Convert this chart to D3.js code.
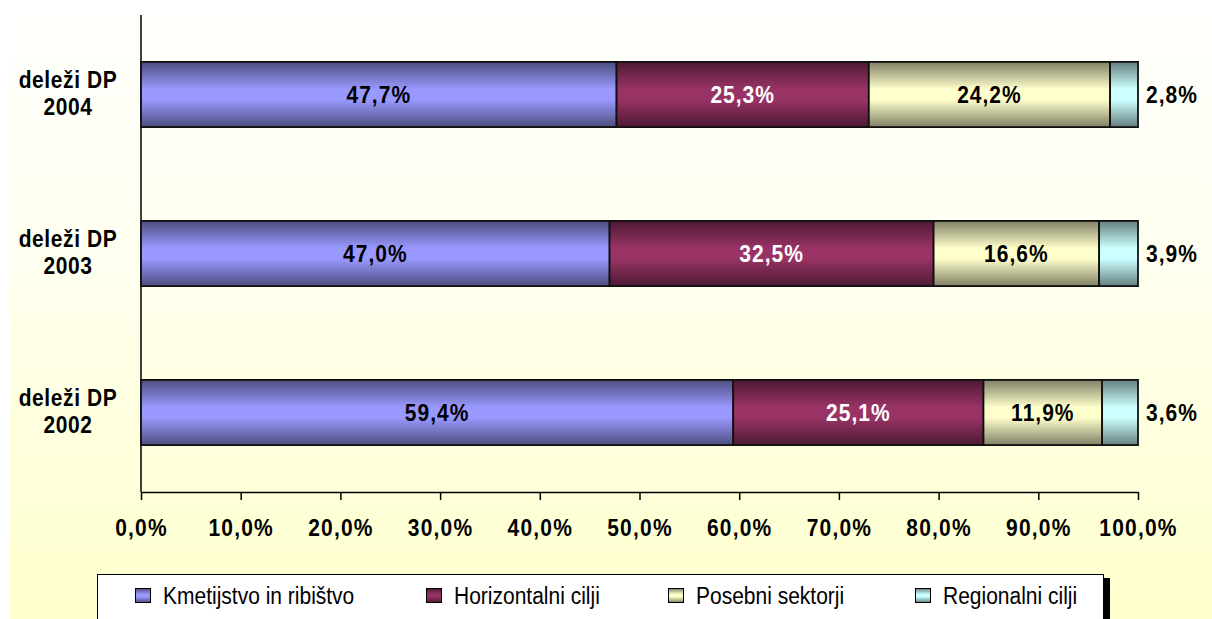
<!DOCTYPE html>
<html><head><meta charset="utf-8">
<script src="https://cdn.jsdelivr.net/npm/d3@7"></script>
<style>html,body{margin:0;padding:0;background:#fff;}svg{display:block;}</style>
</head><body>
<script>
const categories = ["deleži DP 2004", "deleži DP 2003", "deleži DP 2002"];
const seriesNames = ["Kmetijstvo in ribištvo", "Horizontalni cilji", "Posebni sektorji", "Regionalni cilji"];
const kmetijstvo = [47.7, 47.0, 59.4];
const horizontalni = [25.3, 32.5, 25.1];
const posebni = [24.2, 16.6, 11.9];
const regionalni = [2.8, 3.9, 3.6];
const tickValues = [0, 10, 20, 30, 40, 50, 60, 70, 80, 90, 100];
const colors = ["#9999FF", "#993366", "#FFFFCC", "#CCFFFF"];
const labelColors = ["#000", "#fff", "#000", "#000"];

const W = 1212, H = 619;
const svg = d3.select("body").append("svg").attr("width", W).attr("height", H);
const defs = svg.append("defs");

const bg = defs.append("linearGradient").attr("id", "bg").attr("x1", 0).attr("y1", 0).attr("x2", 0).attr("y2", 1);
bg.append("stop").attr("offset", "0%").attr("stop-color", "#FFFFFD");
bg.append("stop").attr("offset", "40%").attr("stop-color", "#FFFFF0");
bg.append("stop").attr("offset", "100%").attr("stop-color", "#FFFFCC");
svg.append("rect").attr("width", W).attr("height", H).attr("fill", "#fff");
svg.append("rect").attr("x", 10).attr("y", 15).attr("width", W - 10).attr("height", H - 15).attr("fill", "url(#bg)");

colors.forEach((c, i) => {
  const g = defs.append("linearGradient").attr("id", "g" + i).attr("x1", 0).attr("y1", 0).attr("x2", 0).attr("y2", 1);
  const dark = d3.interpolateRgb(c, "#000")(0.5);
  g.append("stop").attr("offset", "0%").attr("stop-color", dark);
  g.append("stop").attr("offset", "42%").attr("stop-color", c);
  g.append("stop").attr("offset", "58%").attr("stop-color", c);
  g.append("stop").attr("offset", "100%").attr("stop-color", dark);
});

const x = d3.scaleLinear().domain([0, 100]).range([141, 1138]);
const y = d3.scaleBand().domain(categories).range([15, 492]).paddingInner(0.59).paddingOuter(0.295);

const seriesVals = [kmetijstvo, horizontalni, posebni, regionalni];
const rows = categories.map((c, ci) => {
  const o = { cat: c };
  seriesNames.forEach((s, si) => o[s] = seriesVals[si][ci]);
  return o;
});
const stack = d3.stack().keys(seriesNames)(rows);

// axes lines
svg.append("line").attr("x1", 141).attr("x2", 141).attr("y1", 15).attr("y2", 492).attr("stroke", "#000").attr("stroke-width", 1.5);
const xAxis = svg.append("g").attr("transform", "translate(0,492)")
  .call(d3.axisBottom(x).tickValues(tickValues).tickSize(8).tickSizeOuter(0).tickFormat(d => d3.format(".1f")(d).replace(".", ",") + "%"));
xAxis.select(".domain").attr("stroke", "#000").attr("stroke-width", 1.5);
xAxis.selectAll(".tick line").attr("stroke", "#000").attr("stroke-width", 1.5);
xAxis.selectAll(".tick text").attr("y", 0).attr("dy", 0)
  .attr("transform", "translate(0,44) scale(1,1.1)")
  .attr("font-family", "Liberation Sans, Arial, sans-serif").attr("font-weight", "bold")
  .attr("font-size", 21).attr("letter-spacing", 1.2).attr("fill", "#000");

// bars
stack.forEach((layer, si) => {
  const g = svg.append("g");
  layer.forEach((d, ci) => {
    g.append("rect").attr("x", x(d[0])).attr("y", y(d.data.cat))
      .attr("width", x(d[1]) - x(d[0])).attr("height", y.bandwidth())
      .attr("fill", "url(#g" + si + ")").attr("stroke", "#111").attr("stroke-width", 1.8);
  });
});
// labels
stack.forEach((layer, si) => {
  layer.forEach(d => {
    const v = d[1] - d[0];
    const inside = si < 3;
    const lx = inside ? (x(d[0]) + x(d[1])) / 2 : 1146;
    const ly = y(d.data.cat) + y.bandwidth() / 2 + 8;
    svg.append("text").attr("transform", `translate(${lx},${ly}) scale(1,1.1)`)
      .attr("text-anchor", inside ? "middle" : "start")
      .attr("font-family", "Liberation Sans, Arial, sans-serif").attr("font-weight", "bold")
      .attr("font-size", 21).attr("letter-spacing", 1)
      .attr("fill", inside ? labelColors[si] : "#000")
      .text(d3.format(".1f")(v).replace(".", ",") + "%");
  });
});

// category labels
categories.forEach(c => {
  const parts = [c.slice(0, c.lastIndexOf(" ")), c.slice(c.lastIndexOf(" ") + 1)];
  const cy = y(c) + y.bandwidth() / 2;
  parts.forEach((p, i) => {
    svg.append("text").attr("transform", `translate(68,${cy - 7 + i * 27}) scale(1,1.1)`)
      .attr("text-anchor", "middle")
      .attr("font-family", "Liberation Sans, Arial, sans-serif").attr("font-weight", "bold")
      .attr("font-size", 21).attr("letter-spacing", 0.6).attr("fill", "#000").text(p);
  });
});

// legend
svg.append("rect").attr("x", 1104).attr("y", 578).attr("width", 6).attr("height", 50).attr("fill", "#000");
svg.append("rect").attr("x", 97.5).attr("y", 574.5).attr("width", 1006).attr("height", 60).attr("fill", "#fff").attr("stroke", "#000").attr("stroke-width", 1);
const legX = [135, 426, 668, 915];
seriesNames.forEach((s, i) => {
  svg.append("rect").attr("x", legX[i] + 0.5).attr("y", 588.5).attr("width", 15).attr("height", 14)
    .attr("fill", "url(#g" + i + ")").attr("stroke", "#000").attr("stroke-width", 1);
  svg.append("text").attr("transform", `translate(${legX[i] + 28},604) scale(1,1.1)`)
    .attr("font-family", "Liberation Sans, Arial, sans-serif").attr("font-size", 21).attr("fill", "#000").text(s);
});
</script>
</body></html>
